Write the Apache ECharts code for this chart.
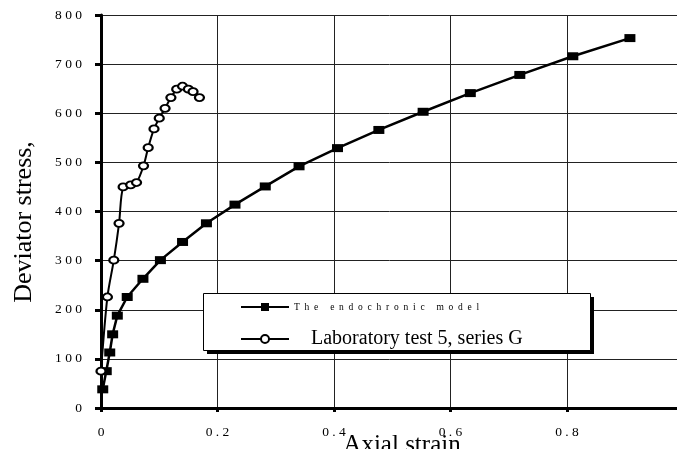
<!DOCTYPE html>
<html>
<head>
<meta charset="utf-8">
<script src="https://cdn.jsdelivr.net/npm/echarts@6/dist/echarts.min.js"></script>
<style>html,body{margin:0;padding:0;background:#fff}#c{width:677px;height:449px}</style>
</head>
<body>
<div id="c"></div>
<script>
// ---- data ----
const modelName = 'The endochronic model';
const testName = 'Laboratory test 5, series G';
const modelStrain = [0.003, 0.009, 0.015, 0.020, 0.028, 0.045, 0.072, 0.102, 0.140, 0.181, 0.230, 0.282, 0.340, 0.406, 0.477, 0.553, 0.634, 0.719, 0.810, 0.908];
const modelStress = [38, 75, 113, 150, 188, 226, 263, 301, 338, 376, 414, 451, 492, 529, 566, 603, 641, 678, 716, 753];
const testStrain = [0.000, 0.011, 0.022, 0.031, 0.038, 0.051, 0.061, 0.073, 0.081, 0.091, 0.100, 0.110, 0.120, 0.130, 0.140, 0.150, 0.158, 0.169];
const testStress = [75, 226, 301, 376, 450, 454, 459, 493, 530, 568, 590, 610, 632, 649, 655, 649, 644, 632];
const xTicks = [0, 0.2, 0.4, 0.6, 0.8, 1.0];
const yTicks = [0, 100, 200, 300, 400, 500, 600, 700, 800];
const xTitle = 'Axial strain';
const yTitle = 'Deviator stress,';

const serif = '"Liberation Serif", "Times New Roman", serif';
const spaced = (s, sep) => s.split('').join(sep);

const chart = echarts.init(document.getElementById('c'), null, {renderer: 'canvas'});
chart.setOption({
  animation: false,
  backgroundColor: '#fff',
  grid: {left: 101, top: 15, width: 582.5, height: 393, containLabel: false, outerBoundsMode: 'none'},
  xAxis: {
    type: 'value', min: xTicks[0], max: xTicks[xTicks.length - 1], interval: 0.2,
    axisLine: {show: true, onZero: false, lineStyle: {color: '#000', width: 3}},
    axisTick: {show: true, length: 4, lineStyle: {color: '#000', width: 3}},
    axisLabel: {margin: 17, fontFamily: serif, fontSize: 13.5, color: '#000',
      formatter: v => v === 0 ? '0' : (v >= 1 ? '' : spaced(v.toFixed(1), ' '))},
    splitLine: {show: true, lineStyle: {color: '#222', width: 1}}
  },
  yAxis: {
    type: 'value', min: yTicks[0], max: yTicks[yTicks.length - 1], interval: 100,
    axisLine: {show: true, onZero: false, lineStyle: {color: '#000', width: 3}},
    axisTick: {show: true, length: 6, lineStyle: {color: '#000', width: 3}},
    axisLabel: {margin: 19, fontFamily: serif, fontSize: 13.5, color: '#000',
      formatter: v => spaced(String(v), ' ')},
    splitLine: {show: true, lineStyle: {color: '#222', width: 1}}
  },
  legend: [
    {
      data: [modelName], left: 240, top: 302, padding: 0, z: 20,
      itemWidth: 48, itemHeight: 10,
      formatter: n => spaced(n, '  '),
      textStyle: {fontFamily: serif, fontSize: 9.5, color: '#000'}
    },
    {
      data: [testName], left: 240, top: 329, padding: 0, z: 20,
      itemWidth: 48, itemHeight: 10,
      textStyle: {fontFamily: serif, fontSize: 20, color: '#000', padding: [8, 0, 0, 17]}
    }
  ],
  graphic: [
    {type: 'rect', z: 10, shape: {x: 207, y: 297, width: 387, height: 57}, style: {fill: '#000'}},
    {type: 'rect', z: 11, shape: {x: 203.5, y: 293.5, width: 387, height: 57}, style: {fill: '#fff', stroke: '#000', lineWidth: 1}},
    {type: 'text', z: 12, x: 24, y: 222, rotation: Math.PI / 2,
      style: {text: yTitle, font: '26px ' + serif, fill: '#000', textAlign: 'center', textVerticalAlign: 'middle'}},
    {type: 'text', z: 12, x: 402, y: 445,
      style: {text: xTitle, font: '25px ' + serif, fill: '#000', textAlign: 'center', textVerticalAlign: 'middle'}}
  ],
  series: [
    {
      name: modelName, type: 'line', z: 3,
      data: modelStrain.map((x, i) => [x, modelStress[i]]),
      symbol: 'rect', symbolSize: [11, 8],
      lineStyle: {color: '#000', width: 2.5},
      itemStyle: {color: '#000'}
    },
    {
      name: testName, type: 'line', z: 4, smooth: 0.3,
      data: testStrain.map((x, i) => [x, testStress[i]]),
      symbol: 'emptyCircle', symbolSize: [9, 7],
      lineStyle: {color: '#000', width: 2},
      itemStyle: {color: '#000', borderColor: '#000', borderWidth: 1}
    }
  ]
});
</script>
</body>
</html>
